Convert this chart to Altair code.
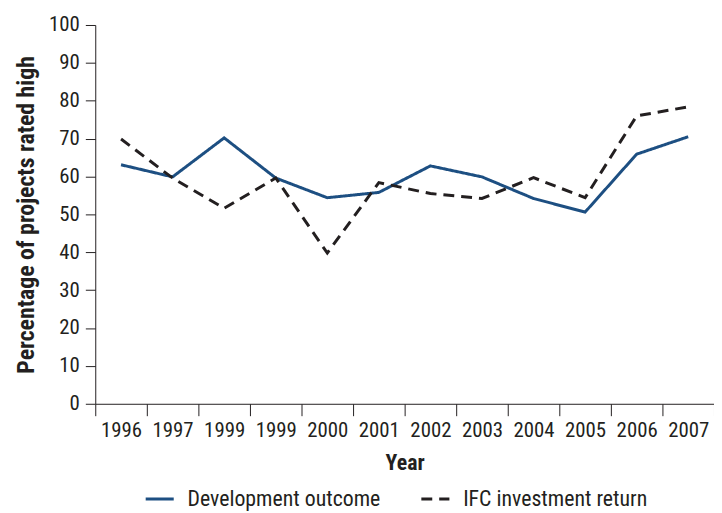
import json
import altair as alt
import pandas as pd

year_labels = ["1996", "1997", "1999", "1999", "2000", "2001", "2002", "2003", "2004", "2005", "2006", "2007"]
development_outcome = [63.1, 59.9, 70.2, 59.6, 54.4, 55.8, 62.8, 59.9, 54.2, 50.6, 65.9, 70.5]
ifc_investment_return = [69.9, 59.6, 51.6, 59.6, 39.8, 58.4, 55.5, 54.2, 59.7, 54.4, 76.0, 78.4]
series_names = ["Development outcome", "IFC investment return"]

rows = []
for i, lab in enumerate(year_labels):
    rows.append({"idx": i, "year": lab, "series": series_names[0], "value": development_outcome[i]})
    rows.append({"idx": i, "year": lab, "series": series_names[1], "value": ifc_investment_return[i]})
df = pd.DataFrame(rows)

FONT = "Liberation Sans Narrow, Roboto Condensed, DejaVu Sans Condensed, sans-serif"
label_expr = json.dumps(year_labels) + "[datum.value]"

legend_kw = dict(title=None, orient="none", legendX=49, legendY=462,
                 direction="horizontal", symbolType="stroke",
                 symbolStrokeWidth=3, symbolSize=800,
                 labelFontSize=22, labelColor="#231f20", labelLimit=400,
                 columnPadding=34, labelOffset=12)

chart = alt.Chart(df).mark_line(strokeWidth=3).encode(
    x=alt.X("idx:O",
            scale=alt.Scale(type="band", paddingInner=0, paddingOuter=0),
            axis=alt.Axis(title="Year", labelExpr=label_expr, labelAngle=0,
                          tickBand="extent", tickSize=12, labelPadding=4,
                          labelFontSize=21, titleFontSize=22, titleFontWeight="bold",
                          titlePadding=12, domainColor="#231f20", tickColor="#231f20",
                          labelColor="#231f20", titleColor="#231f20")),
    y=alt.Y("value:Q",
            scale=alt.Scale(domain=[0, 100], nice=False, zero=True),
            axis=alt.Axis(title="Percentage of projects rated high",
                          values=list(range(0, 101, 10)), grid=False,
                          tickSize=10, labelPadding=6, labelFontSize=21,
                          titleFontSize=24, titleFontWeight="bold", titlePadding=10,
                          domainColor="#231f20", tickColor="#231f20",
                          labelColor="#231f20", titleColor="#231f20")),
    color=alt.Color("series:N",
                    scale=alt.Scale(domain=series_names, range=["#1d4f82", "#231f20"]),
                    legend=alt.Legend(**legend_kw)),
    strokeDash=alt.StrokeDash("series:N",
                              scale=alt.Scale(domain=series_names, range=[[1, 0], [11, 7]]),
                              legend=alt.Legend(**legend_kw)),
).properties(
    width=624,
    height=382,
    autosize=alt.AutoSizeParams(type="none"),
    padding={"left": 88, "top": 15, "right": 0, "bottom": 108},
).configure(
    font=FONT,
).configure_view(
    stroke=None,
)

chart.save("out.html", embed_options={"renderer": "svg", "actions": False})
